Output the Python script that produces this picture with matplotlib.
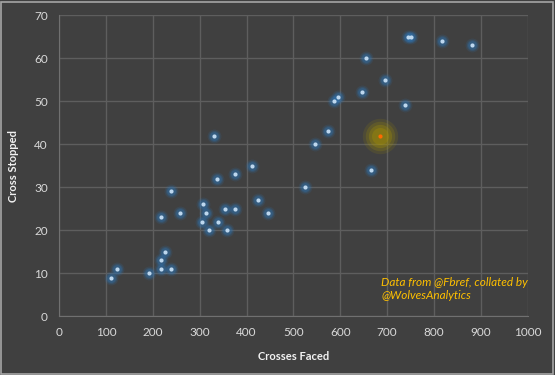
import matplotlib
matplotlib.use('Agg')
import matplotlib.pyplot as plt
from matplotlib.patches import Rectangle

# Crosses faced vs crosses stopped (blue points)
crosses_faced = [111, 124, 193, 217, 238, 218, 226, 217, 238, 258,
                 308, 313, 304, 320, 339, 355, 358, 376, 424, 446,
                 331, 336, 375, 412, 744, 750, 816, 880, 654, 695,
                 646, 595, 587, 738, 573, 546, 665, 524]
crosses_stopped = [9, 11, 10, 11, 11, 13, 15, 23, 29, 24,
                   26, 24, 22, 20, 22, 25, 20, 25, 27, 24,
                   42, 32, 33, 35, 65, 65, 64, 63, 60, 55,
                   52, 51, 50, 49, 43, 40, 34, 30]

# highlighted team
hl_faced = [685]
hl_stopped = [42]

bg = '#404040'
plt.rcParams['font.family'] = ['Lato', 'DejaVu Sans']

fig = plt.figure(figsize=(5.55, 3.75), dpi=100, facecolor=bg)
ax = fig.add_axes([0.1063, 0.1565, 0.8447, 0.8035])
ax.set_facecolor(bg)
fig.patches.append(Rectangle((0.002, 0.003), 0.995, 0.993, transform=fig.transFigure,
                             fill=False, edgecolor='#a6a6a6', lw=1.2))

# glow for the blue points
for s, a in [(100, 0.14), (65, 0.22), (40, 0.32)]:
    ax.scatter(crosses_faced, crosses_stopped, s=s, color='#2e75b6', alpha=a, lw=0, zorder=3)
ax.scatter(crosses_faced, crosses_stopped, s=9, color='#bdd7ee', lw=0, zorder=4)

# glow for the highlighted point
for s, a in [(650, 0.14), (450, 0.2), (280, 0.28), (150, 0.32)]:
    ax.scatter(hl_faced, hl_stopped, s=s, color='#a89400', alpha=a, lw=0, zorder=3)
ax.scatter(hl_faced, hl_stopped, s=9, color='#ff6a00', lw=0, zorder=4)

ax.set_xlim(0, 1000)
ax.set_ylim(0, 70)
ax.set_xticks(range(0, 1001, 100))
ax.set_yticks(range(0, 71, 10))
ax.grid(True, color='#5e5e5e', lw=1)
ax.set_axisbelow(True)
for sp in ax.spines.values():
    sp.set_visible(False)
ax.spines['left'].set_visible(True)
ax.spines['left'].set_color('#707070')
ax.spines['bottom'].set_visible(True)
ax.spines['bottom'].set_color('#707070')
ax.tick_params(colors='#d9d9d9', labelsize=8.5, length=0, pad=8)

ax.set_xlabel('Crosses Faced', color='#f2f2f2', fontsize=8, fontweight='bold', labelpad=9)
ax.set_ylabel('Cross Stopped', color='#f2f2f2', fontsize=8, fontweight='bold', labelpad=11)

ax.text(687, 6.3, 'Data from @Fbref, collated by\n@WolvesAnalytics', color='#ffc000',
        fontsize=8.5, style='italic', va='center', ha='left', linespacing=1.2)

fig.savefig('out.png', dpi=100, facecolor=bg)
